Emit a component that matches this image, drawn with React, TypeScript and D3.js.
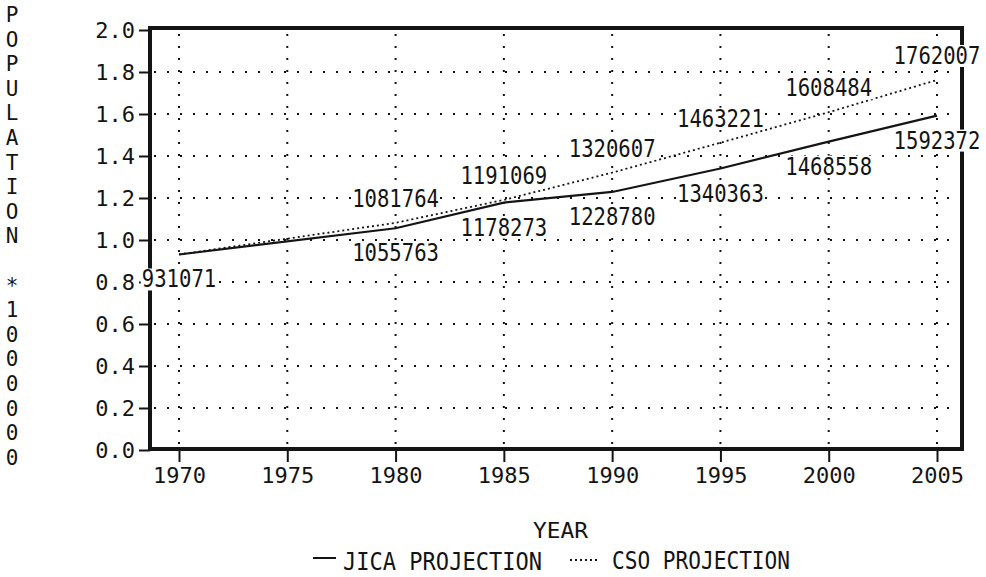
import React, { useEffect, useRef } from "react";
import * as d3 from "d3";

const years = [1970, 1980, 1985, 1990, 1995, 2000, 2005];
const jica = [931071, 1055763, 1178273, 1228780, 1340363, 1468558, 1592372];
const cso = [931071, 1081764, 1191069, 1320607, 1463221, 1608484, 1762007];
const xTicks = [1970, 1975, 1980, 1985, 1990, 1995, 2000, 2005];
const yTicks = [0, 0.2, 0.4, 0.6, 0.8, 1.0, 1.2, 1.4, 1.6, 1.8, 2.0];
const yTitle = "POPULATION *1000000";

export default function App() {
  const ref = useRef<SVGSVGElement>(null);

  useEffect(() => {
    const svg = d3.select(ref.current);
    svg.selectAll("*").remove();
    const ink = "#141414";
    const mono = "'DejaVu Sans Mono', monospace";

    const x = d3.scaleLinear().domain([1970, 2005]).range([179, 937]);
    const y = d3.scaleLinear().domain([0, 2]).range([450, 30]);

    // dotted grid
    const grid = svg.append("g");
    grid.selectAll("line.h")
      .data(yTicks.filter((v) => v > 0 && v < 2))
      .join("line")
      .attr("class", "h")
      .attr("x1", 154).attr("x2", 960)
      .attr("y1", (d) => y(d)).attr("y2", (d) => y(d))
      .attr("stroke", ink).attr("stroke-width", 2)
      .attr("stroke-dasharray", "2 11");
    grid.selectAll("line.v")
      .data(xTicks)
      .join("line")
      .attr("class", "v")
      .attr("x1", (d) => x(d)).attr("x2", (d) => x(d))
      .attr("y1", 34).attr("y2", 447)
      .attr("stroke", ink).attr("stroke-width", 2)
      .attr("stroke-dasharray", "2 10");

    // frame
    svg.append("rect")
      .attr("x", 150).attr("y", 28)
      .attr("width", 812).attr("height", 421)
      .attr("fill", "none").attr("stroke", ink).attr("stroke-width", 4);

    // axes
    const yAxis = d3.axisLeft(y).tickValues(yTicks).tickSize(11).tickPadding(4)
      .tickFormat(d3.format(".1f"));
    const gy = svg.append("g").attr("transform", "translate(150,0)").call(yAxis);
    const xAxis = d3.axisBottom(x).tickValues(xTicks).tickSize(12).tickPadding(5)
      .tickFormat(d3.format("d"));
    const gx = svg.append("g").attr("transform", "translate(0,450)").call(xAxis);
    [gx, gy].forEach((g) => {
      g.select(".domain").remove();
      g.selectAll(".tick line").attr("stroke", ink).attr("stroke-width", 2);
      g.selectAll(".tick text")
        .attr("fill", ink)
        .style("font-family", mono)
        .style("font-size", "22px");
    });

    // lines
    const line = d3.line<number>()
      .x((d, i) => x(years[i]))
      .y((d) => y(d / 1e6));
    svg.append("path").datum(cso).attr("d", line)
      .attr("fill", "none").attr("stroke", ink).attr("stroke-width", 1.8)
      .attr("stroke-dasharray", "2 3");
    svg.append("path").datum(jica).attr("d", line)
      .attr("fill", "none").attr("stroke", ink).attr("stroke-width", 2.2);

    // value labels, on a white patch that knocks out grid and frame
    const label = (vals: number[], dy: number, skipFirst: boolean) => {
      const g = svg.append("g");
      const texts = g.selectAll("text")
        .data(vals.map((v, i) => ({ v, i })).filter((d) => !(skipFirst && d.i === 0)))
        .join("text")
        .attr("x", (d) => x(years[d.i]))
        .attr("y", (d) => y(d.v / 1e6) + dy)
        .attr("text-anchor", "middle")
        .attr("dominant-baseline", "central")
        .attr("textLength", (d) => String(d.v).length * 12.4)
        .attr("lengthAdjust", "spacingAndGlyphs")
        .attr("fill", ink)
        .style("font-family", mono)
        .style("font-size", "24px")
        .text((d) => d.v);
      texts.each(function () {
        const b = (this as SVGTextElement).getBBox();
        g.insert("rect", "text")
          .attr("x", b.x - 1).attr("y", b.y + 3)
          .attr("width", b.width + 2).attr("height", b.height - 6)
          .attr("fill", "#fff");
      });
    };
    label(jica, 25, false);
    label(cso, -24, true);

    // y title, stacked letters
    svg.append("g").selectAll("text")
      .data(yTitle.split(""))
      .join("text")
      .attr("x", 12)
      .attr("y", (d, i) => 15 + i * 24.6)
      .attr("text-anchor", "middle")
      .attr("dominant-baseline", "central")
      .attr("fill", ink)
      .style("font-family", mono)
      .style("font-size", "21px")
      .text((d) => d);

    // x title
    svg.append("text")
      .attr("x", 533).attr("y", 538)
      .attr("textLength", 55).attr("lengthAdjust", "spacingAndGlyphs")
      .attr("fill", ink).style("font-family", mono).style("font-size", "22px")
      .text("YEAR");

    // legend
    const lg = svg.append("g");
    lg.append("line").attr("x1", 313).attr("x2", 336).attr("y1", 558).attr("y2", 558)
      .attr("stroke", ink).attr("stroke-width", 2);
    lg.append("text").attr("x", 343).attr("y", 570)
      .attr("textLength", 199).attr("lengthAdjust", "spacingAndGlyphs")
      .attr("fill", ink).style("font-family", mono).style("font-size", "24px")
      .text("JICA PROJECTION");
    lg.append("line").attr("x1", 570).attr("x2", 598).attr("y1", 560).attr("y2", 560)
      .attr("stroke", ink).attr("stroke-width", 1.8).attr("stroke-dasharray", "2 3");
    lg.append("text").attr("x", 612).attr("y", 569)
      .attr("textLength", 178).attr("lengthAdjust", "spacingAndGlyphs")
      .attr("fill", ink).style("font-family", mono).style("font-size", "24px")
      .text("CSO PROJECTION");
  }, []);

  return (
    <svg
      ref={ref}
      width={986}
      height={577}
      style={{ position: "absolute", left: 0, top: 0, background: "#fff" }}
    />
  );
}
